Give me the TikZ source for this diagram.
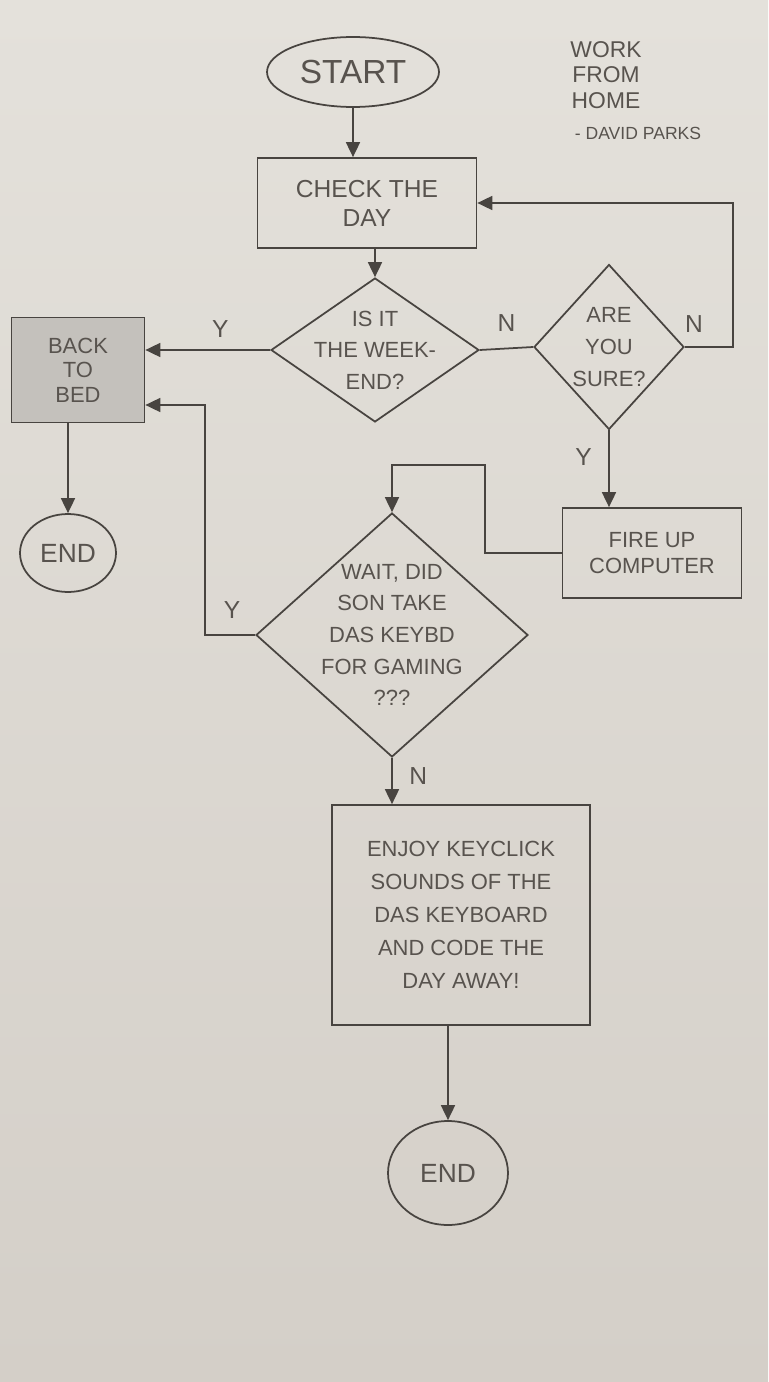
\documentclass[tikz,border=0pt]{standalone}
\usepackage{fontspec}
\setmainfont{Liberation Sans}
\usepackage{tikz}
\usetikzlibrary{arrows.meta,shapes.geometric}
\definecolor{paper}{RGB}{228,225,219}
\definecolor{paperlow}{RGB}{212,207,200}
\definecolor{pencil}{RGB}{72,68,64}
\definecolor{pencilt}{RGB}{88,83,78}
\tikzset{
  pline/.style    = {draw=pencil, line width=1pt},
  parr/.style     = {pline, -{Triangle[length=3mm,width=2.8mm]}},
  stepbox/.style  = {pline, rectangle, inner sep=0pt, align=center,
                     text=pencilt},
  termnode/.style = {pline, ellipse, inner sep=0pt, text=pencilt},
  decide/.style   = {pline, diamond, inner sep=0pt},
  qtext/.style    = {align=center, text=pencilt,
                     font=\fontsize{12.5}{18}\selectfont},
  yn/.style       = {text=pencilt, font=\fontsize{14}{14}\selectfont}
}

\begin{document}
\begin{tikzpicture}[x=0.02cm, y=-0.02cm]
  \shade[top color=paper, bottom color=paperlow] (0,0) rectangle (768,1382);
  \useasboundingbox (0,0) rectangle (768,1382);

  \node[align=center, text=pencilt, font=\fontsize{13}{14.5}\selectfont]
       (title) at (606,75) {WORK\\FROM\\HOME};
  \node[text=pencilt, font=\fontsize{10}{10}\selectfont]
       (sign) at (638,133) {- DAVID PARKS};

  \node[termnode, minimum width=3.44cm, minimum height=1.4cm,
        font=\fontsize{19}{19}\selectfont] (start) at (353,72) {START};
  \node[stepbox, minimum width=4.38cm, minimum height=1.8cm,
        font=\fontsize{14}{16.5}\selectfont] (check) at (367,203)
       {CHECK THE\\DAY};
  \node[decide, minimum width=4.16cm, minimum height=2.88cm,
        label={[qtext]center:IS IT\\THE WEEK-\\END?}] (wkd) at (375,350) {};
  \node[decide, minimum width=3.0cm, minimum height=3.3cm,
        label={[qtext]center:ARE\\YOU\\SURE?}] (sure) at (609,347) {};
  \node[stepbox, fill=paper!86!black, minimum width=2.66cm,
        minimum height=2.1cm, font=\fontsize{12.5}{14}\selectfont]
       (bed) at (78,370) {BACK\\TO\\BED};
  \node[termnode, minimum width=1.92cm, minimum height=1.56cm,
        font=\fontsize{15}{15}\selectfont] (end1) at (68,553) {END};
  \node[stepbox, minimum width=3.58cm, minimum height=1.8cm,
        font=\fontsize{12.5}{15}\selectfont] (fire) at (652,553)
       {FIRE UP\\COMPUTER};
  \node[decide, minimum width=5.44cm, minimum height=4.88cm,
        label={[qtext]center:WAIT, DID\\SON TAKE\\DAS KEYBD\\FOR GAMING\\???}]
       (wait) at (392,635) {};
  \node[stepbox, minimum width=5.16cm, minimum height=4.4cm,
        font=\fontsize{12.5}{18.7}\selectfont] (enjoy) at (461,915)
       {ENJOY KEYCLICK\\SOUNDS OF THE\\DAS KEYBOARD\\AND CODE THE\\DAY AWAY!};
  \node[termnode, minimum width=2.4cm, minimum height=2.08cm,
        font=\fontsize{15}{15}\selectfont] (end2) at (448,1173) {END};

  \coordinate (nback) at (733,203);
  \coordinate (fback) at (485,465);
  \coordinate (yback) at (205,405);

  \draw[parr] (start.south) -- (start.south |- check.north);
  \draw[parr] (wkd.north |- check.south) -- (wkd.north);
  \draw[parr] (wkd.west) -- (wkd.west -| bed.east)
        node[yn, pos=0.4, above=3pt] (wkdy) {Y};
  \draw[pline] (wkd.east) -- (sure.west)
        node[yn, midway, above=6pt] (wkdn) {N};
  \draw[parr] (sure.east) -| (nback) |- (check.east);
  \node[yn] (suren) at (694,324) {N};
  \draw[parr] (sure.south) -- (sure.south |- fire.north)
        node[yn, pos=0.35, left=6pt] (surey) {Y};
  \draw[parr] (fire.west) -| (fback) -| (wait.north);
  \draw[parr] (wait.west) -| (yback) -- (yback -| bed.east);
  \node[yn] (waity) at (232,610) {Y};
  \draw[parr] (wait.south) -- (wait.south |- enjoy.north)
        node[yn, pos=0.4, right=6pt] (waitn) {N};
  \draw[parr] (end2.north |- enjoy.south) -- (end2.north);
  \draw[parr] (end1.north |- bed.south) -- (end1.north);
\end{tikzpicture}
\end{document}
